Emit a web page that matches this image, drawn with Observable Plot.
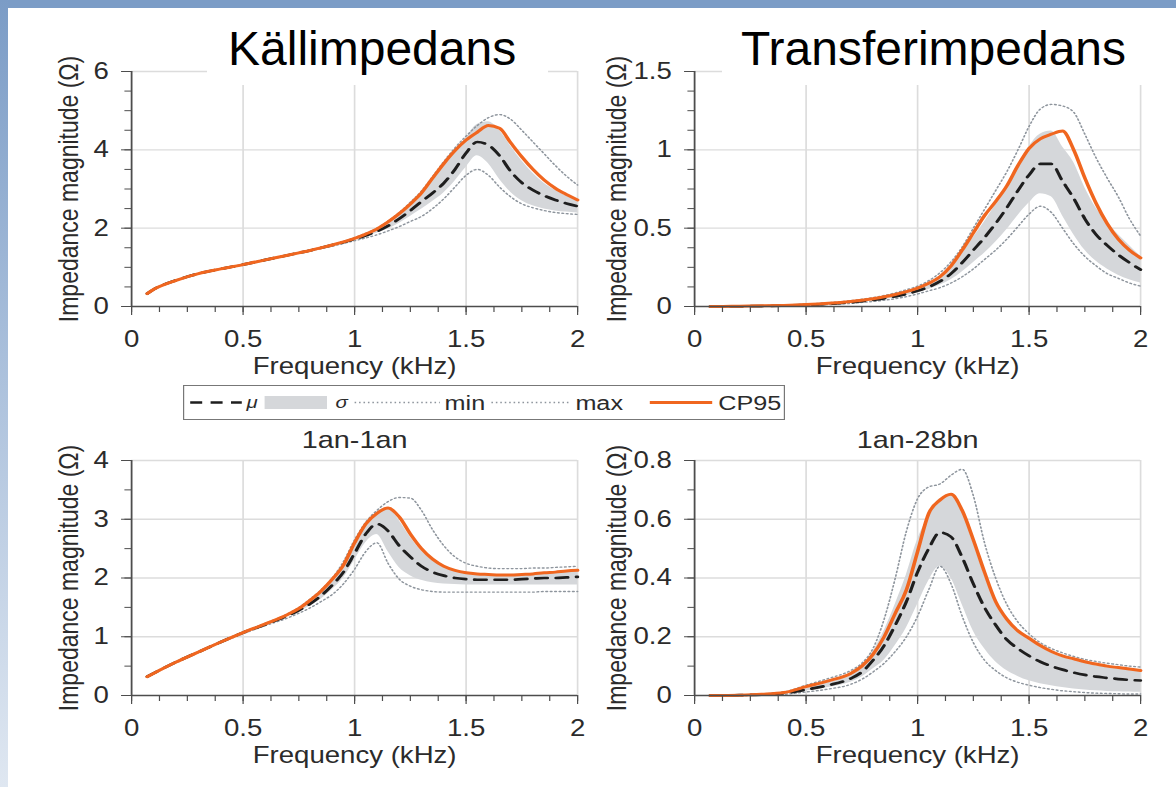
<!DOCTYPE html>
<html>
<head>
<meta charset="utf-8">
<script src="https://cdn.jsdelivr.net/npm/d3@7"></script>
<script src="https://cdn.jsdelivr.net/npm/@observablehq/plot@0.6"></script>
<style>
  html, body { margin: 0; padding: 0; background: #fff; }
  #page { position: relative; width: 1176px; height: 787px; background: #fff; overflow: hidden;
          font-family: "Liberation Sans", Arial, Helvetica, sans-serif; }
  .topband { position: absolute; left: 0; top: 0; width: 1176px; height: 8px; background: #7b9cc6; }
  .leftband { position: absolute; left: 0; top: 0; width: 8px; height: 787px;
              background: linear-gradient(#7b9cc6 0%, #a9bfdb 45%, #dfe7f1 100%); }
  .panel { position: absolute; }
  .tbox { position: absolute; background: #fff; }
  .ttext { position: absolute; font-size: 48px; line-height: 48px; color: #000; white-space: nowrap; }
</style>
</head>
<body>
<div id="page">
  <div class="topband"></div>
  <div class="leftband"></div>
</div>
<script>
// ---------- data ----------
const freq = [0.07,0.1,0.2,0.3,0.4,0.5,0.6,0.7,0.75,0.8,0.85,0.9,0.95,1.0,1.05,1.1,1.15,1.2,1.25,1.3,1.35,1.4,1.45,1.5,1.55,1.6,1.65,1.7,1.75,1.8,1.85,1.9,1.95,2.0];

const panelTitles = ["Källimpedans", "Transferimpedans"];
const panelSubtitles = ["", "", "1an-1an", "1an-28bn"];
const xLabel = "Frequency (kHz)";
const yLabel = "Impedance magnitude (Ω)";
const xMajor = [0, 0.5, 1, 1.5, 2];
const legendLabels = ["μ", "σ", "min", "max", "CP95"];

// Panel 1: Källimpedans
const mu1 = [0.33,0.44,0.67,0.84,0.96,1.07,1.19,1.31,1.37,1.43,1.5,1.57,1.64,1.72,1.81,1.92,2.06,2.24,2.45,2.68,2.9,3.15,3.5,3.92,4.2,4.12,3.85,3.45,3.16,2.97,2.83,2.72,2.63,2.56];
const cp1 = [0.33,0.44,0.67,0.84,0.96,1.07,1.19,1.31,1.37,1.43,1.5,1.57,1.65,1.74,1.85,1.98,2.16,2.37,2.62,2.9,3.28,3.65,3.98,4.25,4.45,4.62,4.55,4.18,3.82,3.5,3.23,3.02,2.86,2.72];
const lo1 = [0.33,0.44,0.67,0.84,0.96,1.07,1.19,1.31,1.37,1.43,1.5,1.56,1.63,1.7,1.78,1.87,1.98,2.12,2.3,2.48,2.68,2.9,3.2,3.55,3.85,3.65,3.25,2.92,2.7,2.57,2.49,2.44,2.41,2.39];
const hi1 = [0.33,0.44,0.67,0.84,0.96,1.07,1.19,1.31,1.37,1.43,1.5,1.57,1.65,1.74,1.85,1.98,2.16,2.37,2.62,2.9,3.25,3.6,3.95,4.3,4.65,4.72,4.5,4.1,3.72,3.4,3.15,2.97,2.82,2.7];
const mx1 = [0.34,0.45,0.68,0.85,0.97,1.08,1.2,1.32,1.38,1.44,1.51,1.58,1.66,1.76,1.87,2.0,2.18,2.4,2.66,2.95,3.32,3.7,4.05,4.35,4.62,4.82,4.9,4.78,4.5,4.2,3.9,3.6,3.33,3.1];
const mn1 = [0.32,0.43,0.66,0.83,0.95,1.06,1.18,1.3,1.36,1.42,1.48,1.54,1.61,1.68,1.75,1.83,1.93,2.04,2.17,2.3,2.5,2.75,3.05,3.35,3.5,3.35,3.05,2.8,2.62,2.52,2.45,2.4,2.37,2.35];

// Panel 2: Transferimpedans
const mu2 = [0,0,0.001,0.003,0.006,0.01,0.017,0.027,0.034,0.042,0.052,0.065,0.08,0.1,0.125,0.16,0.21,0.28,0.36,0.44,0.53,0.63,0.74,0.84,0.91,0.91,0.8,0.69,0.56,0.46,0.39,0.33,0.28,0.235];
const cp2 = [0,0,0.002,0.004,0.007,0.012,0.02,0.032,0.04,0.05,0.062,0.077,0.095,0.118,0.148,0.19,0.26,0.36,0.47,0.58,0.67,0.77,0.9,1.01,1.07,1.1,1.12,1.0,0.82,0.66,0.53,0.43,0.36,0.31];
const lo2 = [0,0,0.001,0.002,0.005,0.008,0.014,0.023,0.029,0.036,0.045,0.056,0.07,0.088,0.108,0.135,0.17,0.22,0.28,0.34,0.41,0.49,0.58,0.66,0.72,0.7,0.58,0.46,0.36,0.29,0.24,0.2,0.17,0.15];
const hi2 = [0,0,0.001,0.004,0.007,0.012,0.02,0.031,0.039,0.048,0.059,0.074,0.09,0.112,0.142,0.185,0.25,0.34,0.44,0.54,0.65,0.77,0.9,1.02,1.1,1.12,1.02,0.92,0.76,0.63,0.54,0.46,0.39,0.32];
const mx2 = [0,0,0.002,0.005,0.009,0.015,0.024,0.037,0.046,0.057,0.07,0.087,0.107,0.13,0.165,0.215,0.285,0.38,0.5,0.62,0.74,0.86,1.0,1.15,1.26,1.29,1.28,1.24,1.1,0.95,0.82,0.7,0.56,0.45];
const mn2 = [0,0,0.001,0.002,0.004,0.007,0.012,0.02,0.026,0.032,0.04,0.05,0.063,0.08,0.1,0.12,0.15,0.19,0.24,0.3,0.36,0.43,0.51,0.59,0.64,0.6,0.5,0.4,0.32,0.26,0.21,0.18,0.15,0.13];

// Panel 3: 1an-1an
const mu3 = [0.32,0.38,0.57,0.74,0.91,1.07,1.21,1.36,1.45,1.56,1.7,1.88,2.1,2.42,2.75,2.92,2.8,2.55,2.36,2.2,2.1,2.04,2.0,1.98,1.97,1.97,1.97,1.97,1.98,1.99,2.0,2.0,2.01,2.02];
const cp3 = [0.32,0.38,0.57,0.74,0.91,1.07,1.22,1.38,1.48,1.62,1.78,1.98,2.22,2.6,2.92,3.1,3.19,3.04,2.75,2.5,2.32,2.2,2.13,2.09,2.07,2.06,2.05,2.05,2.06,2.07,2.09,2.1,2.12,2.13];
const lo3 = [0.32,0.38,0.57,0.74,0.91,1.06,1.2,1.34,1.42,1.52,1.64,1.8,2.0,2.3,2.6,2.74,2.45,2.18,2.04,1.96,1.92,1.9,1.89,1.88,1.88,1.88,1.88,1.88,1.88,1.88,1.88,1.88,1.88,1.88];
const hi3 = [0.32,0.38,0.58,0.75,0.92,1.08,1.22,1.38,1.48,1.6,1.76,1.96,2.2,2.55,2.9,3.12,3.2,2.98,2.7,2.46,2.3,2.18,2.12,2.08,2.06,2.06,2.06,2.06,2.07,2.08,2.1,2.1,2.12,2.13];
const mx3 = [0.33,0.39,0.58,0.75,0.92,1.08,1.23,1.39,1.5,1.64,1.8,2.0,2.28,2.65,2.95,3.15,3.3,3.37,3.36,3.15,2.82,2.55,2.36,2.25,2.2,2.17,2.16,2.16,2.16,2.17,2.17,2.18,2.19,2.2];
const mn3 = [0.31,0.37,0.56,0.73,0.9,1.05,1.19,1.32,1.4,1.49,1.6,1.72,1.9,2.15,2.45,2.6,2.25,1.98,1.86,1.8,1.77,1.76,1.76,1.76,1.76,1.76,1.76,1.76,1.76,1.76,1.77,1.77,1.77,1.77];

// Panel 4: 1an-28bn
const mu4 = [0,0,0.001,0.003,0.008,0.02,0.035,0.058,0.08,0.12,0.17,0.24,0.32,0.42,0.5,0.555,0.54,0.47,0.38,0.3,0.24,0.19,0.16,0.135,0.115,0.1,0.088,0.078,0.07,0.064,0.06,0.056,0.053,0.051];
const cp4 = [0,0,0.001,0.004,0.01,0.03,0.05,0.075,0.1,0.14,0.2,0.28,0.36,0.49,0.62,0.665,0.685,0.63,0.53,0.42,0.32,0.26,0.22,0.195,0.17,0.15,0.135,0.125,0.115,0.107,0.1,0.095,0.09,0.085];
const lo4 = [0,0,0,0.002,0.006,0.015,0.027,0.045,0.063,0.09,0.12,0.17,0.23,0.31,0.39,0.44,0.4,0.31,0.22,0.16,0.115,0.085,0.065,0.05,0.04,0.033,0.027,0.022,0.019,0.016,0.014,0.013,0.012,0.011];
const hi4 = [0,0,0.001,0.004,0.01,0.025,0.043,0.071,0.097,0.15,0.22,0.31,0.41,0.53,0.61,0.67,0.68,0.63,0.52,0.41,0.315,0.255,0.215,0.19,0.165,0.145,0.13,0.12,0.11,0.102,0.096,0.091,0.086,0.082];
const mx4 = [0,0,0.002,0.005,0.012,0.035,0.058,0.085,0.11,0.16,0.26,0.4,0.56,0.67,0.71,0.72,0.75,0.77,0.68,0.52,0.4,0.31,0.25,0.21,0.18,0.16,0.145,0.133,0.123,0.116,0.11,0.105,0.1,0.097];
const mn4 = [0,0,0,0.001,0.004,0.012,0.022,0.038,0.055,0.08,0.11,0.15,0.2,0.27,0.36,0.44,0.38,0.27,0.18,0.12,0.085,0.06,0.045,0.035,0.027,0.021,0.016,0.013,0.01,0.008,0.007,0.006,0.005,0.005];

const yMajor1 = [0, 2, 4, 6],        yMinorStep1 = 0.5;
const yMajor2 = [0, 0.5, 1, 1.5],    yMinorStep2 = 0.125;
const yMajor3 = [0, 1, 2, 3, 4],     yMinorStep3 = 0.5;
const yMajor4 = [0, 0.2, 0.4, 0.6, 0.8], yMinorStep4 = 0.1;

// ---------- layout / style ----------
const S = 1.2;                 // horizontal stretch of the original figure
const W = 588, H = 380;        // screen size of one panel svg
const W0 = W / S;
const ML = 131 / S, MR = (W - 577) / S, MT = 71, MB = 74;
const FONT = '"Liberation Sans", Arial, Helvetica, sans-serif';
const TXT = "#2b2b2b", AX = "#4d4d4d", GRID = "#dcdcdc";
const BAND = "#d5d7da", DOT = "#8e959d", MU = "#1e1e1e", CP = "#f0661f";

function range(step, max) {
  const out = [];
  for (let i = 0; i * step <= max + 1e-9; i++) out.push(+(i * step).toFixed(4));
  return out;
}

function stretch(svg) {
  svg.setAttribute("viewBox", `0 0 ${W0} ${H}`);
  svg.setAttribute("width", W);
  svg.setAttribute("height", H);
  svg.setAttribute("preserveAspectRatio", "none");
  svg.style.width = W + "px";
  svg.style.height = H + "px";
  svg.style.maxWidth = "none";
  svg.style.overflow = "visible";
}

function makePanel(p) {
  const data = freq.map((f, i) => ({f, mu: p.mu[i], cp: p.cp[i], lo: p.lo[i], hi: p.hi[i], mx: p.mx[i], mn: p.mn[i]}));
  const yMax = p.yMajor[p.yMajor.length - 1];
  const xMinor = range(0.125, 2);
  const yMinor = range(p.yMinorStep, yMax);
  const curve = "monotone-x";
  const marks = [
    Plot.gridX(xMajor.slice(1), {stroke: GRID, strokeOpacity: 1, strokeWidth: 1.4}),
    Plot.gridY(p.yMajor.slice(1), {stroke: GRID, strokeOpacity: 1, strokeWidth: 1.4}),
    Plot.areaY(data, {x: "f", y1: "lo", y2: "hi", fill: BAND, curve}),
    Plot.lineY(data, {x: "f", y: "mn", stroke: DOT, strokeWidth: 1.4, strokeDasharray: "1.3,2.4", curve}),
    Plot.lineY(data, {x: "f", y: "mx", stroke: DOT, strokeWidth: 1.4, strokeDasharray: "1.3,2.4", curve}),
    Plot.lineY(data, {x: "f", y: "mu", stroke: MU, strokeWidth: 2.7, strokeDasharray: "10,7", curve}),
    Plot.lineY(data, {x: "f", y: "cp", stroke: CP, strokeWidth: 3, curve}),
    Plot.ruleY([0], {stroke: AX, strokeWidth: 1.5}),
    Plot.ruleX([0], {stroke: AX, strokeWidth: 1.5}),
    Plot.axisX({ticks: xMinor, tickSize: 6, tickFormat: () => "", stroke: AX, label: null}),
    Plot.axisX({ticks: xMajor, tickSize: 9, tickPadding: 15, tickFormat: d => String(d), stroke: AX, fill: TXT, fontSize: 23, label: null}),
    Plot.axisY({ticks: yMinor, tickSize: 5.5, tickFormat: () => "", stroke: AX, label: null}),
    Plot.axisY({ticks: p.yMajor, tickSize: 8.3, tickPadding: 10.7, tickFormat: d => String(d), stroke: AX, fill: TXT, fontSize: 23, label: null}),
    Plot.text([xLabel], {text: d => d, frameAnchor: "bottom", dy: 60, lineAnchor: "middle", textAnchor: "middle", fontSize: 23, fill: TXT}),
    Plot.text([yLabel], {text: d => d, frameAnchor: "left", rotate: -90, dx: p.yLabelDx, lineAnchor: "middle", textAnchor: "middle", fontSize: 23, fill: TXT})
  ];
  if (p.subtitle) {
    marks.push(Plot.text([p.subtitle], {text: d => d, frameAnchor: "top", dy: -20, lineAnchor: "middle", textAnchor: "middle", fontSize: 24, fill: TXT}));
  }
  const svg = Plot.plot({
    width: W0, height: H,
    marginLeft: ML, marginRight: MR, marginTop: MT, marginBottom: MB,
    style: {fontFamily: FONT, fontSize: "23px", color: TXT, background: "transparent", overflow: "visible"},
    x: {domain: [0, 2]},
    y: {domain: [0, yMax]},
    marks
  });
  stretch(svg);
  const wrap = document.createElement("div");
  wrap.className = "panel";
  wrap.style.left = p.left + "px";
  wrap.style.top = p.top + "px";
  wrap.appendChild(svg);
  document.getElementById("page").appendChild(wrap);
}

makePanel({left: 0,   top: 0,   yLabelDx: -51.7, yMajor: yMajor1, yMinorStep: yMinorStep1, mu: mu1, cp: cp1, lo: lo1, hi: hi1, mx: mx1, mn: mn1, subtitle: panelSubtitles[0]});
makePanel({left: 563, top: 0,   yLabelDx: -64.5, yMajor: yMajor2, yMinorStep: yMinorStep2, mu: mu2, cp: cp2, lo: lo2, hi: hi2, mx: mx2, mn: mn2, subtitle: panelSubtitles[1]});
makePanel({left: 0,   top: 389, yLabelDx: -51.7, yMajor: yMajor3, yMinorStep: yMinorStep3, mu: mu3, cp: cp3, lo: lo3, hi: hi3, mx: mx3, mn: mn3, subtitle: panelSubtitles[2]});
makePanel({left: 563, top: 389, yLabelDx: -64.5, yMajor: yMajor4, yMinorStep: yMinorStep4, mu: mu4, cp: cp4, lo: lo4, hi: hi4, mx: mx4, mn: mn4, subtitle: panelSubtitles[3]});

// ---------- big titles (white boxes over the top of the top panels) ----------
const page = document.getElementById("page");
[[207, 341, 228, panelTitles[0]], [722, 454, 741, panelTitles[1]]].forEach(([bx, bw, tx, t]) => {
  const box = document.createElement("div");
  box.className = "tbox";
  Object.assign(box.style, {left: bx + "px", top: "8px", width: bw + "px", height: "77px"});
  page.appendChild(box);
  const txt = document.createElement("div");
  txt.className = "ttext";
  txt.textContent = t;
  Object.assign(txt.style, {left: tx + "px", top: "25px"});
  page.appendChild(txt);
});

// ---------- legend ----------
(function legend() {
  const LW = 602, LH = 35, L0 = LW / S;
  const svg = d3.create("svg")
    .attr("width", LW).attr("height", LH)
    .attr("viewBox", `0 0 ${L0} ${LH}`)
    .attr("preserveAspectRatio", "none")
    .style("position", "absolute").style("left", "183px").style("top", "385px")
    .style("font-family", FONT);
  svg.append("rect").attr("x", 0.5).attr("y", 0.5).attr("width", L0 - 1).attr("height", LH - 1)
    .attr("fill", "#fff").attr("stroke", "#777").attr("stroke-width", 1);
  const cy = 17.5;
  svg.append("line").attr("x1", 6).attr("x2", 49).attr("y1", cy).attr("y2", cy)
    .attr("stroke", MU).attr("stroke-width", 2.7).attr("stroke-dasharray", "10,7");
  svg.append("text").attr("x", 53).attr("y", 23).attr("font-size", 17).attr("font-style", "italic").attr("fill", TXT).text(legendLabels[0]);
  svg.append("rect").attr("x", 68).attr("y", 11).attr("width", 52).attr("height", 13).attr("fill", BAND);
  svg.append("text").attr("x", 127).attr("y", 23).attr("font-size", 17).attr("font-style", "italic").attr("fill", TXT).text(legendLabels[1]);
  svg.append("line").attr("x1", 143).attr("x2", 214).attr("y1", cy).attr("y2", cy)
    .attr("stroke", DOT).attr("stroke-width", 1.4).attr("stroke-dasharray", "1.3,2.4");
  svg.append("text").attr("x", 218).attr("y", 25).attr("font-size", 21).attr("fill", TXT).text(legendLabels[2]);
  svg.append("line").attr("x1", 257).attr("x2", 322).attr("y1", cy).attr("y2", cy)
    .attr("stroke", DOT).attr("stroke-width", 1.4).attr("stroke-dasharray", "1.3,2.4");
  svg.append("text").attr("x", 327).attr("y", 25).attr("font-size", 21).attr("fill", TXT).text(legendLabels[3]);
  svg.append("line").attr("x1", 389).attr("x2", 441).attr("y1", cy).attr("y2", cy)
    .attr("stroke", CP).attr("stroke-width", 3);
  svg.append("text").attr("x", 446).attr("y", 25).attr("font-size", 21).attr("fill", TXT).text(legendLabels[4]);
  page.appendChild(svg.node());
})();
</script>
</body>
</html>
